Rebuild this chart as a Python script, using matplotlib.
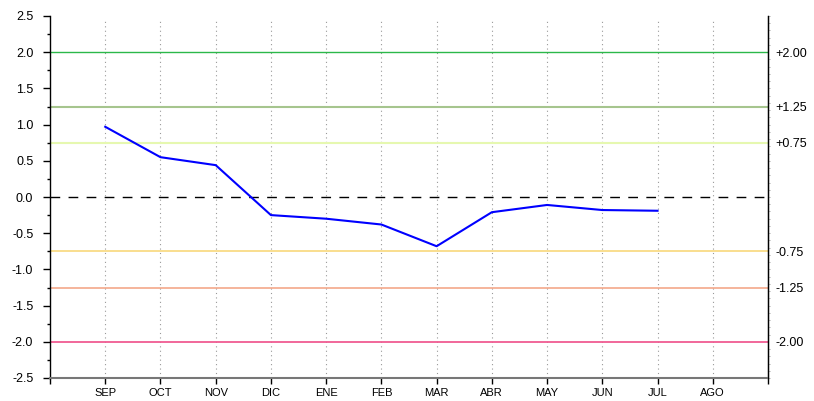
import matplotlib
matplotlib.use("Agg")
import matplotlib.pyplot as plt
import numpy as np

plt.rcParams['font.family'] = ['Liberation Sans', 'DejaVu Sans']

months = ['SEP', 'OCT', 'NOV', 'DIC', 'ENE', 'FEB', 'MAR', 'ABR', 'MAY', 'JUN', 'JUL', 'AGO']
values = [0.97, 0.55, 0.44, -0.25, -0.30, -0.38, -0.68, -0.21, -0.11, -0.18, -0.19]

thresholds = [2.00, 1.25, 0.75, -0.75, -1.25, -2.00]
thr_labels = ['+2.00', '+1.25', '+0.75', '-0.75', '-1.25', '-2.00']
thr_colors = ['#2cb84a', '#a6c58e', '#e6f8b0', '#f8d470', '#f2a080', '#f05c92']
thr_widths = [1.0, 1.5, 1.5, 1.1, 1.1, 1.3]

fig = plt.figure(figsize=(8.14, 4.01), dpi=100)
ax = fig.add_axes([50/814, 1-378/401, (768-50)/814, (378-16)/401])

x = np.arange(len(months))
for xi in x:
    ax.plot([xi, xi], [-2.5, 2.45], color='#999999', lw=0.8, ls=(0, (1, 3)), zorder=1)

for t, c, w in zip(thresholds, thr_colors, thr_widths):
    ax.axhline(t, color=c, lw=w, zorder=2)
ax.axhline(0, color='black', lw=1.0, ls=(0, (7, 6)), zorder=2)

ax.plot(x[:len(values)], values, color='#0000ff', lw=1.5, zorder=3)

ax.set_xlim(-1, 12)
ax.set_ylim(-2.5, 2.5)
ax.set_yticks(np.arange(-2.5, 2.51, 0.5))
ax.set_yticklabels(['%.1f' % v for v in np.arange(-2.5, 2.51, 0.5)])
ax.set_yticks(np.arange(-2.5, 2.51, 0.25), minor=True)
ax.set_xticks(np.arange(-1, 13))
ax.set_xticklabels([''] + months + [''])
ax.tick_params(axis='y', labelsize=9, length=5, width=1, pad=7)
ax.tick_params(axis='y', which='minor', length=2.5, width=1)
ax.tick_params(axis='x', labelsize=8, length=4, width=1, pad=3.5)

ax.spines['top'].set_visible(False)
ax.spines['bottom'].set_color('#777777')
ax.spines['bottom'].set_linewidth(1.5)
ax.spines['left'].set_linewidth(1.0)
ax.spines['right'].set_linewidth(1.0)

ax2 = ax.twinx()
ax2.set_ylim(-2.5, 2.5)
ax2.set_yticks(thresholds)
ax2.set_yticklabels(thr_labels)
ax2.set_yticks(np.arange(-2.5, 2.51, 0.1), minor=True)
ax2.tick_params(axis='y', labelsize=9, length=0, pad=5.5)
ax2.tick_params(axis='y', which='minor', length=1.5, width=0.5, color='#888888')
for s in ['top', 'bottom', 'left']:
    ax2.spines[s].set_visible(False)

fig.savefig('out.png', dpi=100)
